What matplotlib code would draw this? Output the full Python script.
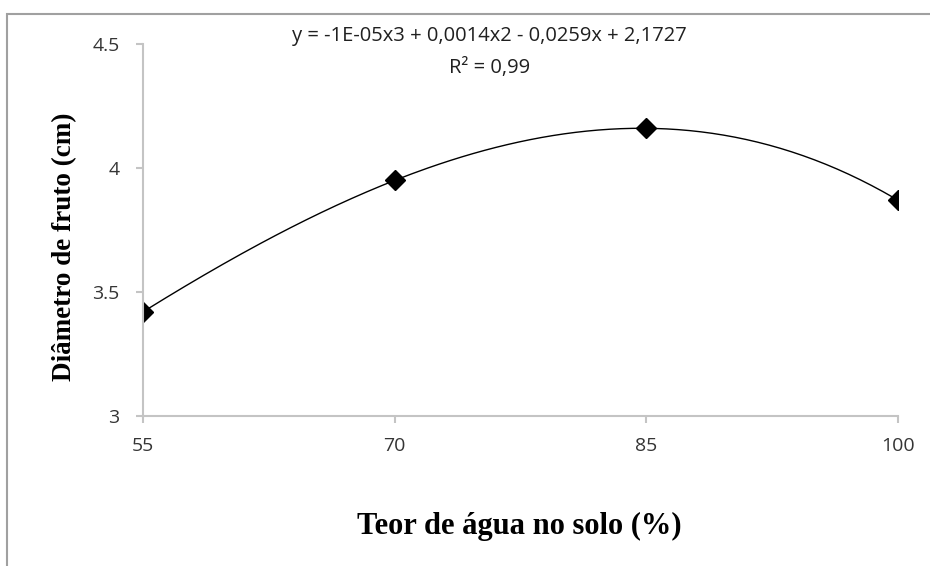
import numpy as np
import matplotlib.pyplot as plt
from matplotlib.patches import Rectangle

# teor de água no solo (%) e diâmetro médio do fruto (cm)
teor_agua = [55, 70, 85, 100]
diametro = [3.42, 3.95, 4.16, 3.87]

x_ticks = [55, 70, 85, 100]
y_ticks = [3, 3.5, 4, 4.5]
y_tick_labels = ['3', '3.5', '4', '4.5']

eq_text = 'y = -1E-05x3 + 0,0014x2 - 0,0259x + 2,1727'
r2_text = 'R² = 0,99'

fig = plt.figure(figsize=(9.3, 5.66), dpi=100)
ax = fig.add_axes([0.1538, 0.265, 0.8118, 0.6573])

# linha de tendência polinomial de 3ª ordem
coef = np.polyfit(teor_agua, diametro, 3)
xs = np.linspace(55, 100, 200)
ax.plot(xs, np.polyval(coef, xs), color='black', linewidth=1.0)
ax.plot(teor_agua, diametro, linestyle='none', marker='D', markersize=10,
        color='black')

ax.set_xlim(55, 100)
ax.set_ylim(3, 4.5)
ax.set_xticks(x_ticks)
ax.set_yticks(y_ticks)
ax.set_yticklabels(y_tick_labels)

for s in ['top', 'right']:
    ax.spines[s].set_visible(False)
for s in ['left', 'bottom']:
    ax.spines[s].set_color('#c4c4c4')
    ax.spines[s].set_linewidth(1.5)
ax.tick_params(colors='#c4c4c4', width=1.5, length=5, direction='out',
               labelcolor='#353535')
for lbl in ax.get_xticklabels() + ax.get_yticklabels():
    lbl.set_family('Open Sans')
    lbl.set_fontsize(14)
ax.tick_params(axis='x', pad=10)
ax.tick_params(axis='y', pad=12)

fig.text(0.069, 0.564, 'Diâmetro de fruto (cm)', rotation=90,
         ha='center', va='center', family='Liberation Serif',
         fontweight='bold', fontsize=19.5)
fig.text(0.558, 0.069, 'Teor de água no solo (%)', ha='center', va='center',
         family='Liberation Serif', fontweight='bold', fontsize=22)

fig.text(0.526, 0.936, eq_text, ha='center', va='center',
         family='Open Sans', fontsize=14.5, color='#202020')
fig.text(0.526, 0.88, r2_text, ha='center', va='center',
         family='Open Sans', fontsize=14.5, color='#202020')

# moldura da área do gráfico
fig.patches.append(Rectangle((7 / 930, -0.05), 1.0, 1 - 14 / 566 + 0.05,
                             transform=fig.transFigure, fill=False,
                             edgecolor='#a0a0a0', linewidth=1.5))

fig.savefig('out.png', dpi=100)
